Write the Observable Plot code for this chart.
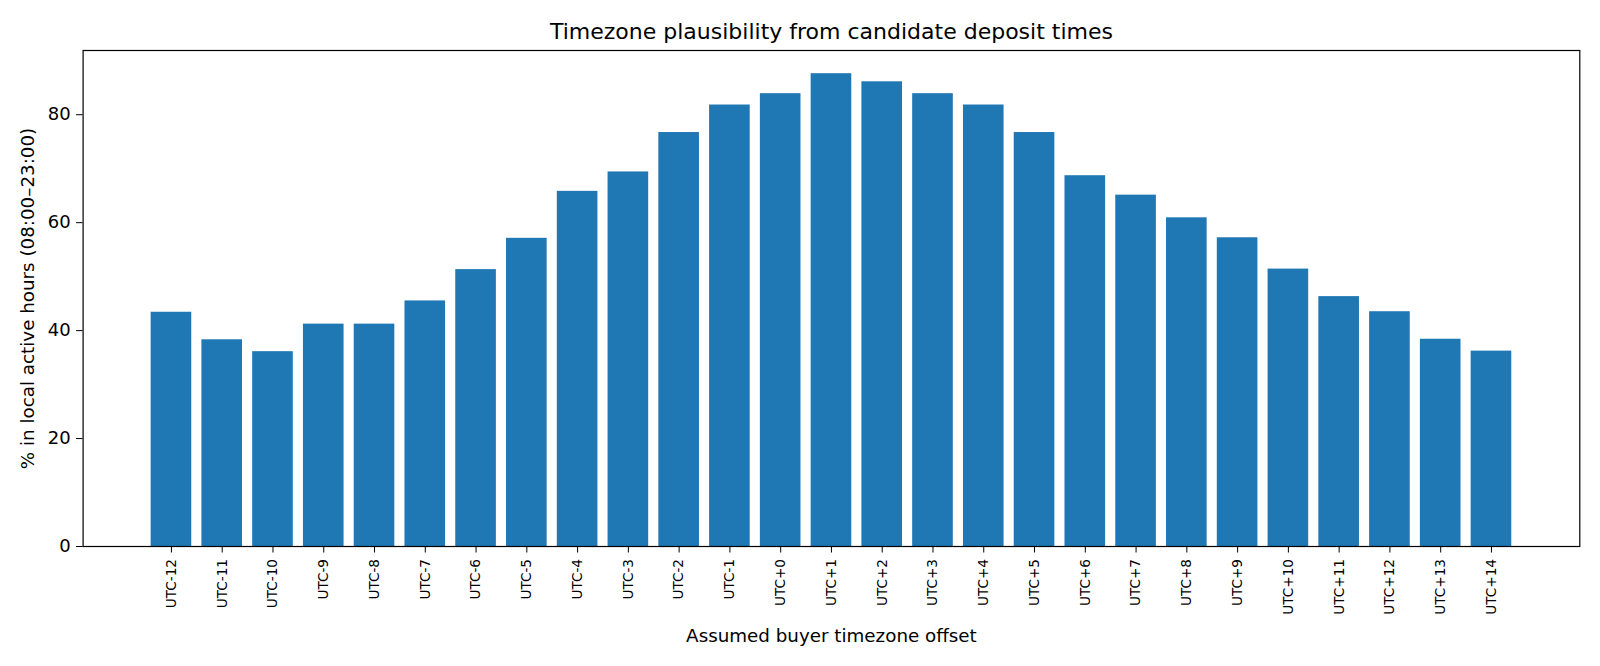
<!DOCTYPE html>
<html>
<head>
<meta charset="utf-8">
<script src="https://cdn.jsdelivr.net/npm/d3@7"></script>
<script src="https://cdn.jsdelivr.net/npm/@observablehq/plot@0.6"></script>
<style>
  html, body { margin: 0; padding: 0; background: #fff; }
  #chart svg { display: block; }
</style>
</head>
<body>
<div id="chart"></div>
<script>
const offsets = ["UTC-12","UTC-11","UTC-10","UTC-9","UTC-8","UTC-7","UTC-6","UTC-5","UTC-4","UTC-3","UTC-2","UTC-1","UTC+0","UTC+1","UTC+2","UTC+3","UTC+4","UTC+5","UTC+6","UTC+7","UTC+8","UTC+9","UTC+10","UTC+11","UTC+12","UTC+13","UTC+14"];
const pctActive = [43.4,38.3,36.1,41.2,41.2,45.5,51.3,57.1,65.8,69.4,76.7,81.8,83.9,87.6,86.1,83.9,81.8,76.7,68.7,65.1,60.9,57.2,51.4,46.3,43.5,38.4,36.2];
const yTicks = [0,20,40,60,80];
const titleText = "Timezone plausibility from candidate deposit times";
const xLabel = "Assumed buyer timezone offset";
const yLabel = "% in local active hours (08:00–23:00)";

const data = offsets.map((o, i) => ({offset: o, value: pctActive[i]}));

const chart = Plot.plot({
  width: 1600,
  height: 666,
  marginLeft: 82.6,
  marginRight: 20.7,
  marginTop: 50,
  marginBottom: 120,
  style: {fontFamily: "'DejaVu Sans', sans-serif", background: "#fff", color: "#000"},
  x: {type: "band", domain: offsets, paddingInner: 0.2, paddingOuter: 1.34, align: 0.5, round: false},
  y: {domain: [0, 91.9]},
  marks: [
    Plot.barY(data, {x: "offset", y: "value", fill: "#1f77b4"}),
    Plot.axisY({ticks: yTicks, tickSize: 6.5, tickPadding: 6, fontSize: 18, label: null, stroke: "#000"}),
    Plot.axisX({tickSize: 6.5, tickPadding: 6, tickRotate: -90, fontSize: 13.6, label: null, stroke: "#000"}),
    Plot.frame({stroke: "#000", strokeWidth: 1.2}),
    Plot.text([titleText], {frameAnchor: "top", lineAnchor: "bottom", dy: -11.5, fontSize: 22, fill: "#000"}),
    Plot.text([xLabel], {frameAnchor: "bottom", lineAnchor: "bottom", dy: 95.7, fontSize: 18.3, fill: "#000"}),
    Plot.text([yLabel], {frameAnchor: "left", textAnchor: "middle", lineAnchor: "bottom", rotate: -90, dx: -49.6, fontSize: 18.3, fill: "#000"})
  ]
});
document.getElementById("chart").appendChild(chart);
</script>
</body>
</html>
